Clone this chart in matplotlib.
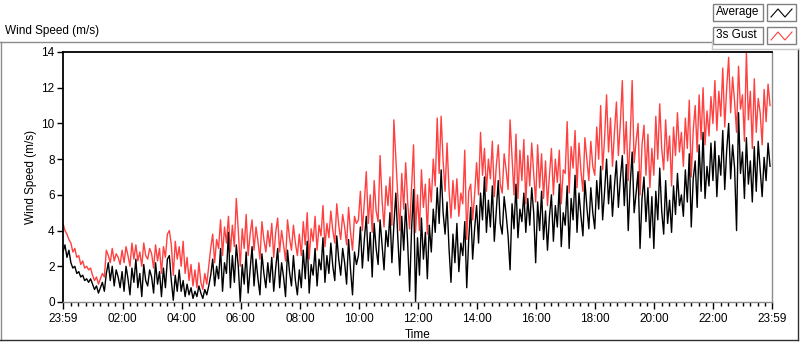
import numpy as np
import matplotlib
matplotlib.use("Agg")
import matplotlib.pyplot as plt
from matplotlib.lines import Line2D
from matplotlib.patches import Rectangle

plt.rcParams["font.family"] = ["Liberation Sans", "DejaVu Sans"]
plt.rcParams["font.size"] = 8.5

# Wind speed (m/s), one value every 4 minutes starting at 23:59 (15 values per hour)
avg_speed = [
    2.8, 3.2, 2.5, 2.9, 2.2, 1.9, 2.0, 1.6, 1.7, 1.4, 1.5, 1.2, 1.3, 1.1, 1.3,
    1.0, 0.7, 0.9, 0.5, 0.8, 1.1, 0.6, 1.6, 2.2, 1.2, 2.0, 0.9, 1.8, 1.4, 0.8,
    1.7, 0.6, 2.0, 1.3, 0.4, 1.9, 1.1, 2.4, 0.8, 1.6, 0.3, 2.1, 1.2, 0.9, 1.8,
    1.4, 0.5, 2.2, 1.0, 1.7, 0.3, 1.9, 0.8, 2.4, 2.6, 1.2, 0.1, 1.5, 0.6, 1.8,
    0.6, 1.2, 0.3, 1.0, 0.4, 0.8, 0.2, 0.6, 0.3, 0.9, 0.5, 0.2, 0.7, 0.4, 0.9,
    1.5, 2.4, 0.9, 2.0, 1.3, 3.0, 0.6, 2.2, 1.6, 3.9, 0.8, 2.6, 1.1, 3.2, 2.0,
    0.0, 2.1, 1.0, 2.8, 0.5, 1.8, 3.1, 0.9, 2.4, 1.3, 0.4, 2.7, 1.6, 0.8, 2.2,
    1.1, 2.5, 0.6, 1.9, 3.0, 0.8, 2.2, 1.4, 0.3, 2.9, 1.7, 0.9, 2.6, 1.2, 0.4,
    1.8, 0.8, 2.9, 1.3, 3.4, 0.5, 2.1, 1.5, 3.0, 0.9, 2.4, 1.8, 3.6, 1.1, 2.6,
    1.6, 3.3, 2.0, 1.2, 3.7, 2.4, 1.5, 3.0, 2.2, 1.0, 3.5, 1.8, 0.4, 2.8, 2.1,
    2.6, 4.2, 1.9, 3.5, 4.8, 2.3, 3.9, 1.4, 4.4, 3.0, 2.1, 4.6, 3.2, 1.8, 4.0,
    3.1, 5.0, 2.2, 4.3, 6.1, 3.6, 1.5, 4.8, 2.9, 5.5, 3.3, 0.6, 4.1, 6.3, 0.0,
    3.6, 1.5, 4.7, 2.4, 3.9, 1.3, 4.3, 2.8, 5.2, 3.9, 6.4, 4.4, 7.4, 5.0, 3.8,
    5.6, 3.0, 1.1, 3.8, 2.2, 4.4, 1.7, 3.3, 2.6, 4.5, 0.8, 3.5, 5.3, 2.4, 4.1,
    5.4, 3.3, 6.1, 4.6, 7.0, 3.9, 5.7, 4.2, 6.5, 3.4, 5.1, 6.8, 4.4, 3.8, 5.9,
    4.9, 3.7, 1.8, 5.5, 4.1, 6.6, 3.6, 5.2, 4.5, 6.1, 3.9, 5.8, 4.3, 6.4, 5.0,
    2.2, 5.6, 4.0, 6.2, 3.5, 5.1, 2.9, 4.8, 6.0, 3.4, 5.4, 4.2, 6.6, 3.1, 5.0,
    4.3, 6.5, 3.0, 5.8, 4.6, 7.1, 3.9, 6.1, 4.8, 3.7, 6.8, 5.3, 4.1, 6.4, 5.0,
    4.1, 6.8, 5.2, 7.6, 4.6, 6.2, 8.0, 5.5, 7.1, 4.8, 6.5, 7.9, 5.3, 6.9, 8.2,
    5.4, 7.7, 4.0, 6.6, 8.4, 5.0, 6.1, 7.3, 3.0, 5.8, 7.0, 4.5, 6.4, 3.6, 5.9,
    3.0, 6.2, 4.6, 7.5, 5.1, 3.8, 6.8, 4.4, 5.7, 3.9, 6.5, 4.9, 7.2, 5.4, 6.0,
    4.8, 7.4, 5.6, 8.3, 4.2, 6.9, 7.9, 5.3, 8.8, 6.2, 9.5, 5.8, 7.6, 6.5, 8.9,
    6.8, 9.0, 5.9, 8.2, 7.1, 9.6, 6.3, 8.5, 10.0, 6.9, 8.8, 7.5, 4.0, 10.6, 7.2,
    8.4, 5.8, 9.2, 6.6, 7.9, 5.6, 8.7, 6.2, 9.0, 7.4, 5.9, 8.1, 6.8, 8.9, 7.6,
]
gust_speed = [
    4.4, 4.0, 3.8, 3.5, 3.3, 2.8, 3.0, 2.5, 2.6, 2.1, 2.3, 1.9, 2.0, 1.8, 1.9,
    1.5, 1.2, 1.4, 1.0, 1.3, 1.6, 1.4, 2.9, 2.6, 2.2, 3.0, 2.3, 2.7, 2.5, 2.1,
    2.9, 2.2, 3.1, 2.6, 2.0, 3.3, 2.4, 3.2, 2.3, 2.8, 2.0, 3.3, 2.6, 2.4, 3.0,
    2.7, 1.9, 3.2, 2.3, 3.0, 1.6, 3.1, 2.5, 3.8, 4.0, 3.2, 1.5, 3.4, 2.4, 3.1,
    2.0, 3.4, 1.6, 2.5, 1.2, 2.1, 0.9, 1.8, 0.8, 2.2, 1.1, 0.7, 1.6, 1.0, 2.0,
    3.0, 3.8, 2.2, 3.5, 3.0, 4.6, 2.6, 4.2, 3.3, 4.8, 2.8, 4.3, 3.1, 5.8, 4.0,
    2.0, 4.1, 3.0, 4.9, 2.6, 3.8, 4.6, 2.9, 4.2, 3.4, 2.4, 4.5, 3.5, 2.8, 4.0,
    3.1, 4.4, 2.5, 3.9, 4.7, 2.8, 4.0, 3.2, 2.3, 4.6, 3.6, 2.9, 4.3, 3.3, 2.6,
    3.8, 2.6, 4.5, 3.2, 5.0, 2.4, 4.1, 3.4, 4.8, 2.9, 4.3, 3.7, 5.4, 3.1, 4.4,
    3.6, 5.1, 4.0, 3.3, 5.5, 4.3, 3.5, 4.9, 4.2, 3.2, 5.3, 3.9, 2.9, 4.8, 4.4,
    4.6, 6.2, 4.0, 5.6, 7.3, 4.4, 6.0, 3.9, 6.8, 5.1, 4.5, 8.2, 5.7, 4.2, 6.5,
    5.4, 7.0, 4.3, 10.2, 8.0, 5.9, 4.0, 7.2, 5.2, 7.8, 5.6, 4.1, 6.4, 8.8, 3.9,
    6.0, 4.0, 7.4, 5.3, 6.6, 3.8, 6.9, 5.6, 8.0, 6.5, 10.3, 7.2, 10.4, 7.9, 6.2,
    8.9, 6.3, 4.7, 6.8, 5.2, 6.9, 4.8, 6.1, 5.5, 8.5, 3.5, 6.2, 6.6, 4.6, 6.0,
    7.8, 6.0, 9.5, 7.1, 8.6, 6.2, 8.0, 6.9, 9.0, 5.9, 7.6, 8.8, 6.6, 6.1, 8.3,
    7.4, 6.3, 10.2, 8.1, 6.0, 9.4, 5.8, 8.5, 6.8, 9.1, 5.5, 8.2, 6.5, 8.9, 7.2,
    5.6, 8.8, 6.4, 8.3, 5.8, 7.9, 5.4, 7.1, 8.6, 6.0, 8.0, 6.7, 8.5, 5.5, 7.4,
    7.2, 10.1, 6.1, 8.7, 7.5, 9.6, 6.4, 8.9, 7.3, 6.2, 9.2, 8.0, 6.8, 9.0, 7.6,
    7.1, 9.8, 8.0, 11.0, 7.4, 9.2, 11.6, 8.4, 10.3, 7.6, 9.5, 11.2, 8.2, 10.0, 12.4,
    8.3, 10.1, 6.8, 9.2, 12.4, 7.8, 9.0, 10.0, 6.0, 8.8, 9.9, 7.1, 9.4, 6.4, 8.6,
    7.1, 10.4, 8.0, 11.1, 8.6, 7.4, 10.2, 7.9, 9.3, 6.5, 9.8, 8.2, 10.6, 8.4, 9.5,
    7.6, 10.3, 8.6, 11.3, 7.0, 9.6, 11.0, 8.4, 11.6, 9.1, 12.0, 8.8, 10.7, 9.3, 11.5,
    10.0, 12.4, 9.6, 11.8, 10.4, 13.1, 9.8, 12.0, 13.7, 10.6, 12.6, 11.2, 9.5, 13.2, 10.8,
    11.6, 9.0, 14.0, 10.2, 11.8, 8.6, 12.5, 9.5, 11.4, 10.6, 8.8, 11.9, 10.1, 12.2, 11.0,
]
sample_minutes = 4

tick_minutes = [0, 121, 241, 361, 481, 601, 721, 841, 961, 1081, 1201, 1321, 1440]
tick_labels = ["23:59", "02:00", "04:00", "06:00", "08:00", "10:00", "12:00",
               "14:00", "16:00", "18:00", "20:00", "22:00", "23:59"]
y_ticks = [0, 2, 4, 6, 8, 10, 12, 14]

W, H = 800, 342


def fx(x):
    return x / W


def fy(y):
    return 1 - y / H


minutes = np.arange(len(avg_speed)) * sample_minutes

fig = plt.figure(figsize=(W / 100, H / 100), dpi=100)
ax = fig.add_axes([fx(63), fy(302), 709 / W, 250 / H])

gust_color = "#ff4040"
ax.plot(minutes, gust_speed, color=gust_color, lw=1.0)
ax.plot(minutes, avg_speed, color="black", lw=1.0)

ax.set_xlim(0, 1440)
ax.set_ylim(0, 14)
ax.set_xticks(tick_minutes)
ax.set_xticklabels(tick_labels)
minor = [m for m in range(16, 1440, 15) if (m - 1) % 120 != 0]
ax.set_xticks(minor, minor=True)
ax.set_yticks(y_ticks)
ax.tick_params(axis="x", which="major", length=5, width=1, pad=3)
ax.tick_params(axis="x", which="minor", length=3, width=1)
ax.tick_params(axis="y", length=4, width=1, pad=2)

ax.spines["top"].set_linewidth(1.3)
ax.spines["left"].set_linewidth(1.3)
ax.spines["bottom"].set_color("#8c8c8c")
ax.spines["right"].set_color("#8c8c8c")
ax.spines["bottom"].set_linewidth(1)
ax.spines["right"].set_linewidth(1)

ax.set_xlabel("Time", labelpad=3)
ax.set_ylabel("Wind Speed (m/s)", labelpad=3)

# chart frame
frame = [
    ([fx(0), fx(711)], [fy(42), fy(42)], "#8c8c8c"),
    ([fx(1), fx(1)], [fy(42), fy(340)], "#8c8c8c"),
    ([fx(0), fx(798)], [fy(340), fy(340)], "#303030"),
    ([fx(798), fx(798)], [fy(49), fy(340)], "#303030"),
    ([fx(712), fx(712)], [fy(40), fy(49)], "#c8c8c8"),
    ([fx(712), fx(800)], [fy(49), fy(49)], "#c8c8c8"),
]
for xs, ys, c in frame:
    fig.add_artist(Line2D(xs, ys, transform=fig.transFigure, color=c, lw=1))

fig.text(fx(5), fy(31), "Wind Speed (m/s)", va="center", ha="left")

# legend
legend_items = [("Average", "black"), ("3s Gust", gust_color)]
for i, (name, c) in enumerate(legend_items):
    top = 4 + i * 23
    fig.add_artist(Rectangle((fx(713), fy(top + 17)), 50 / W, 17 / H,
                             transform=fig.transFigure, fill=False,
                             edgecolor="#808080", lw=1))
    fig.text(fx(716), fy(top + 8.5), name, va="center", ha="left")
    fig.add_artist(Rectangle((fx(767), fy(top + 17)), 29 / W, 17 / H,
                             transform=fig.transFigure, fill=False,
                             edgecolor="#808080", lw=1))
    zy = [top + 13, top + 5, top + 13, top + 5]
    zx = [771, 778, 785, 792]
    fig.add_artist(Line2D([fx(v) for v in zx], [fy(v) for v in zy],
                          transform=fig.transFigure, color=c, lw=0.8))

fig.savefig("out.png", dpi=100)
